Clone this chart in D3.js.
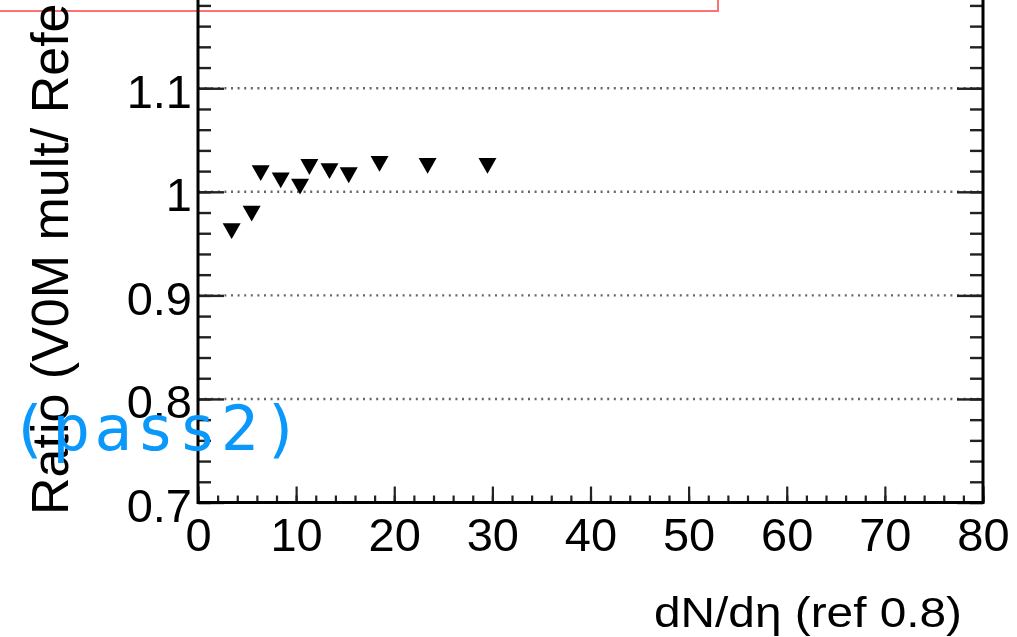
<!DOCTYPE html>
<html>
<head>
<meta charset="utf-8">
<script src="https://cdn.jsdelivr.net/npm/d3@7"></script>
<style>
  html, body { margin: 0; padding: 0; background: #fff; overflow: hidden; }
  svg { display: block; }
</style>
</head>
<body>
<svg id="chart" width="1017" height="637"></svg>
<script>
// Ratio of V0M multiplicity to reference multiplicity vs dN/deta
const dndeta = [3.43, 5.47, 6.39, 8.43, 10.4, 11.35, 13.4, 15.36, 18.5, 23.4, 29.5];
const ratio  = [0.962, 0.979, 1.018, 1.011, 1.005, 1.024, 1.020, 1.016, 1.027, 1.025, 1.025];

const xMajorTicks = [0, 10, 20, 30, 40, 50, 60, 70, 80];
const xMinorTicks = d3.range(0, 80.001, 2);
const yMajorTicks = [0.7, 0.8, 0.9, 1.0, 1.1];
const yMinorTicks = d3.range(0, 26).map(i => +(0.7 + i * 0.02).toFixed(2));
const yTickLabels = ["0.7", "0.8", "0.9", "1", "1.1"];

const xTitle = "dN/d\u03B7 (ref 0.8)";
const yTitle = "Ratio (V0M mult/ Reference mult)";
const tagText = "(pass2)";

const svg = d3.select("#chart");

const frame = { left: 198, right: 983, bottom: 502.5, top: -15.3 };
const x = d3.scaleLinear().domain([0, 80]).range([frame.left, frame.right]);
const y = d3.scaleLinear().domain([0.7, 1.2]).range([frame.bottom, frame.top]);

// soft rendering of the plot body
const defs = svg.append("defs");
defs.append("filter").attr("id", "soft")
  .attr("x", "-5%").attr("y", "-5%").attr("width", "110%").attr("height", "110%")
  .append("feGaussianBlur").attr("stdDeviation", 0.6);

const plot = svg.append("g").attr("filter", "url(#soft)");

// legend/title box at the top (only its lower part is in view)
plot.append("rect")
  .attr("x", -20).attr("y", -60).attr("width", 738).attr("height", 71)
  .attr("fill", "#fff").attr("stroke", "#ff6f6f").attr("stroke-width", 2);

// dotted horizontal grid
plot.append("g").selectAll("line")
  .data(yMajorTicks)
  .join("line")
  .attr("x1", frame.left).attr("x2", frame.right)
  .attr("y1", d => y(d)).attr("y2", d => y(d))
  .attr("stroke", "#666").attr("stroke-width", 2.4)
  .attr("stroke-dasharray", "2,4.6");

const fontMain = "'Liberation Sans', Arial, Helvetica, sans-serif";

function styleAxis(g, width) {
  g.select(".domain").remove();
  g.selectAll(".tick line").attr("stroke", "#222").attr("stroke-width", width);
}

// x axis: minor ticks, then major ticks with labels
plot.append("g").attr("transform", `translate(0,${frame.bottom})`)
  .call(d3.axisBottom(x).tickValues(xMinorTicks).tickSize(-7).tickFormat(""))
  .call(g => styleAxis(g, 2.2));
const xAx = plot.append("g").attr("transform", `translate(0,${frame.bottom})`)
  .call(d3.axisBottom(x).tickValues(xMajorTicks).tickSize(-16).tickPadding(15).tickFormat(d3.format("d")))
  .call(g => styleAxis(g, 2.2));
xAx.selectAll("text").attr("font-family", fontMain).attr("font-size", 47).attr("fill", "#000");

// y axis left
plot.append("g").attr("transform", `translate(${frame.left},0)`)
  .call(d3.axisLeft(y).tickValues(yMinorTicks).tickSize(-13).tickFormat(""))
  .call(g => styleAxis(g, 2.4));
const yAx = plot.append("g").attr("transform", `translate(${frame.left},0)`)
  .call(d3.axisLeft(y).tickValues(yMajorTicks).tickSize(-26).tickPadding(6)
    .tickFormat((d, i) => yTickLabels[i]))
  .call(g => styleAxis(g, 2.4));
yAx.selectAll("text").attr("font-family", fontMain).attr("font-size", 47)
  .attr("fill", "#000").attr("dy", "0.4em");

// y axis right (ticks only)
plot.append("g").attr("transform", `translate(${frame.right},0)`)
  .call(d3.axisRight(y).tickValues(yMinorTicks).tickSize(-13).tickFormat(""))
  .call(g => styleAxis(g, 2.4));
plot.append("g").attr("transform", `translate(${frame.right},0)`)
  .call(d3.axisRight(y).tickValues(yMajorTicks).tickSize(-26).tickFormat(""))
  .call(g => styleAxis(g, 2.4));

// frame
plot.append("rect")
  .attr("x", frame.left).attr("y", frame.top)
  .attr("width", frame.right - frame.left).attr("height", frame.bottom - frame.top)
  .attr("fill", "none").attr("stroke", "#000").attr("stroke-width", 3);

// downward triangle markers
const triangleDown = {
  draw(ctx, size) {
    const s = Math.sqrt(size);
    const h = s * 0.88;
    ctx.moveTo(-s / 2, -h / 2);
    ctx.lineTo(s / 2, -h / 2);
    ctx.lineTo(0, h / 2);
    ctx.closePath();
  }
};
plot.append("g").selectAll("path")
  .data(dndeta.map((v, i) => [v, ratio[i]]))
  .join("path")
  .attr("transform", d => `translate(${x(d[0])},${y(d[1])})`)
  .attr("d", d3.symbol().type(triangleDown).size(18 * 18))
  .attr("fill", "#000");

// axis titles
plot.append("text")
  .attr("x", 654).attr("y", 627)
  .attr("text-anchor", "start")
  .attr("font-family", fontMain).attr("font-size", 42)
  .attr("textLength", 308).attr("lengthAdjust", "spacingAndGlyphs")
  .attr("fill", "#000")
  .text(xTitle);

plot.append("text")
  .attr("transform", "translate(68,515) rotate(-90)")
  .attr("text-anchor", "start")
  .attr("font-family", fontMain).attr("font-size", 52)
  .attr("fill", "#000")
  .text(yTitle);

// crisp blue tag
svg.append("text")
  .attr("x", 10).attr("y", 450)
  .attr("font-family", "'DejaVu Sans Mono', monospace")
  .attr("font-size", 63)
  .attr("letter-spacing", 4.2)
  .attr("fill", "#0a98fa")
  .text(tagText);
</script>
</body>
</html>
